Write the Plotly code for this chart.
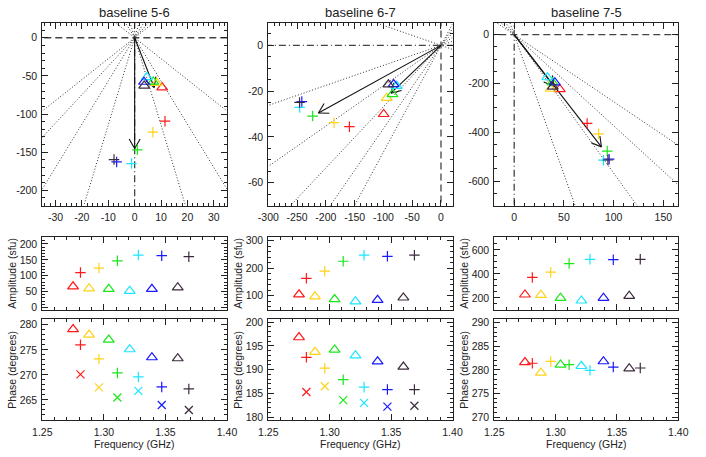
import math
import plotly.graph_objects as go

W, H = 706, 457

# ---------------- data ----------------
titles = ["baseline 5-6", "baseline 6-7", "baseline 7-5"]
colors = ["#ff1a1a", "#ffd21a", "#1ae61a", "#1ae6ff", "#1a1aff", "#3c2a3c"]
freq_tri = [1.275, 1.288, 1.304, 1.321, 1.339, 1.360]
freq_plus = [1.281, 1.296, 1.311, 1.328, 1.347, 1.369]

amp_tri_56 = [66, 60, 58, 52, 58, 63]
amp_plus_56 = [110, 124, 147, 165, 163, 160]
ph_tri_56 = [279.1, 278.0, 277.0, 275.1, 273.5, 273.3]
ph_plus_56 = [276.0, 273.2, 270.4, 269.6, 267.6, 267.2]
ph_x_56 = [270.1, 267.5, 265.5, 266.8, 264.0, 263.0]
arrow_amp_56 = [145.3, 65.6]
arrow_ph_56 = [270.0, 276.5]
rays_56 = [250, 255, 260, 265, 275, 280, 290]

amp_tri_67 = [104, 97, 87, 79, 84, 93]
amp_plus_67 = [163, 189, 225, 247, 243, 247]
ph_tri_67 = [196.8, 193.7, 194.2, 193.0, 191.7, 190.6]
ph_plus_67 = [192.6, 190.3, 187.9, 186.3, 185.8, 185.8]
ph_x_67 = [185.3, 186.5, 183.6, 183.0, 182.2, 182.4]
arrow_amp_67 = [215.0, 89.5]
arrow_ph_67 = [187.9, 193.5]
rays_67 = [175, 185, 190, 195, 200, 205]

amp_tri_75 = [228, 225, 200, 178, 200, 217]
amp_plus_75 = [371, 415, 486, 522, 519, 522]
ph_tri_75 = [281.6, 279.4, 281.1, 280.8, 281.8, 280.3]
ph_plus_75 = [281.4, 281.8, 281.1, 279.9, 280.6, 280.4]
ph_x_75 = []
arrow_amp_75 = [468.0, 215.0]
arrow_ph_75 = [280.8, 280.7]
rays_75 = [275, 280, 285, 290]

top_xticks = [[-30, -20, -10, 0, 10, 20, 30], [-300, -250, -200, -150, -100, -50, 0], [0, 50, 100, 150]]
top_yticks = [[-200, -150, -100, -50, 0], [-60, -40, -20, 0], [-600, -400, -200, 0]]
amp_ticks = [[0, 50, 100, 150, 200], [100, 200, 300], [200, 400, 600]]
ph_ticks = [[265, 270, 275, 280], [180, 185, 190, 195, 200], [270, 275, 280, 285, 290]]
freq_ticks = [1.25, 1.30, 1.35, 1.40]
freq_labels = ["1.25", "1.30", "1.35", "1.40"]

# ---------------- layout geometry / style ----------------
cols_px = [(42.3, 227.0), (268.3, 452.5), (494.3, 678.3)]
row_top = (22.5, 205.5)
row_amp = (237.3, 310.0)
row_ph = (319.3, 420.0)
top_xrange = [[-35, 35], [-300, 20], [-20, 165]]
top_yrange = [[-220, 20], [-70, 10], [-700, 50]]
top_xminor = [2, 10, 10]
top_yminor = [10, 5, 50]
amp_range = [[-8, 221], [48, 312], [100, 705]]
amp_minor = [10, 20, 50]
ph_range = [[261.0, 281.1], [179.4, 200.6], [269.4, 290.7]]
freq_range = [1.25, 1.40]
FONT = "Liberation Sans, Arial, Helvetica, sans-serif"
INK = "#222222"
TICK_SIZE = 10.5
LABEL_SIZE = 10.5

panels = [
    (amp_tri_56, amp_plus_56, ph_tri_56, ph_plus_56, ph_x_56, arrow_amp_56, arrow_ph_56, rays_56),
    (amp_tri_67, amp_plus_67, ph_tri_67, ph_plus_67, ph_x_67, arrow_amp_67, arrow_ph_67, rays_67),
    (amp_tri_75, amp_plus_75, ph_tri_75, ph_plus_75, ph_x_75, arrow_amp_75, arrow_ph_75, rays_75),
]


def xdom(a, b):
    return [a / W, b / W]


def ydom(a, b):
    return [1 - b / H, 1 - a / H]


def fmt(v):
    return "%g" % v


def axis(rng, dom, anchor, tickvals, ticktext, minor, labels=True):
    return dict(
        domain=dom, anchor=anchor, range=rng, showgrid=False, zeroline=False,
        automargin=False,
        showline=True, linecolor=INK, linewidth=1, mirror="allticks",
        ticks="inside", ticklen=6, tickwidth=1, tickcolor=INK,
        tickmode="array", tickvals=tickvals, ticktext=ticktext,
        showticklabels=labels, ticklabelstandoff=2,
        tickfont=dict(size=TICK_SIZE, color=INK, family=FONT),
        minor=dict(tickmode="linear", tick0=0, dtick=minor, ticks="inside",
                   ticklen=3, tickwidth=1, tickcolor=INK, showgrid=False),
        fixedrange=True,
    )


def polar(a, p):
    return a * math.cos(math.radians(p)), a * math.sin(math.radians(p))


fig = go.Figure()
layout = {}
annotations = []

mk_tri = dict(symbol="triangle-up-open", size=9.5, line=dict(width=1.2))
mk_plus = dict(symbol="cross-thin-open", size=7.5, line=dict(width=1.2))
mk_x = dict(symbol="x-thin-open", size=8, line=dict(width=1.2))

for c in range(3):
    amp_tri, amp_plus, ph_tri, ph_plus, ph_x, a_amp, a_ph, rays = panels[c]
    it, ia, ip = 1 + 3 * c, 2 + 3 * c, 3 + 3 * c
    xa = lambda i: "x" if i == 1 else "x%d" % i
    ya = lambda i: "y" if i == 1 else "y%d" % i
    xl = lambda i: "xaxis" if i == 1 else "xaxis%d" % i
    yl = lambda i: "yaxis" if i == 1 else "yaxis%d" % i
    x0, x1 = cols_px[c]

    # axes
    layout[xl(it)] = axis(top_xrange[c], xdom(x0, x1), ya(it), top_xticks[c],
                          [fmt(v) for v in top_xticks[c]], top_xminor[c])
    layout[yl(it)] = axis(top_yrange[c], ydom(*row_top), xa(it), top_yticks[c],
                          [fmt(v) for v in top_yticks[c]], top_yminor[c])
    layout[xl(ia)] = axis(freq_range, xdom(x0, x1), ya(ia), freq_ticks, freq_labels, 0.01, labels=False)
    layout[yl(ia)] = axis(amp_range[c], ydom(*row_amp), xa(ia), amp_ticks[c],
                          [fmt(v) for v in amp_ticks[c]], amp_minor[c])
    layout[xl(ip)] = axis(freq_range, xdom(x0, x1), ya(ip), freq_ticks, freq_labels, 0.01)
    layout[yl(ip)] = axis(ph_range[c], ydom(*row_ph), xa(ip), ph_ticks[c],
                          [fmt(v) for v in ph_ticks[c]], 1)

    # pixel scale of the top panel
    sx = (x1 - x0) / (top_xrange[c][1] - top_xrange[c][0])
    sy = (row_top[1] - row_top[0]) / (top_yrange[c][1] - top_yrange[c][0])
    big = 5000

    # radial dotted lines
    for r in rays:
        ex, ey = polar(big, r)
        fig.add_trace(go.Scatter(x=[-ex, ex], y=[-ey, ey], mode="lines", xaxis=xa(it), yaxis=ya(it),
                                 line=dict(color="#333333", width=1, dash="1px,2px"),
                                 hoverinfo="skip", showlegend=False))
    # axes lines through origin
    hz_dash = "7px,4px" if c != 1 else "7px,3px,1px,3px"
    vt_dash = "7px,3px,1px,3px" if c != 1 else "7px,4px"
    fig.add_trace(go.Scatter(x=[-big, big], y=[0, 0], mode="lines", xaxis=xa(it), yaxis=ya(it),
                             line=dict(color="#444444", width=1.3, dash=hz_dash),
                             hoverinfo="skip", showlegend=False))
    fig.add_trace(go.Scatter(x=[0, 0], y=[-big, big], mode="lines", xaxis=xa(it), yaxis=ya(it),
                             line=dict(color="#444444", width=1.3, dash=vt_dash),
                             hoverinfo="skip", showlegend=False))

    # arrows (shaft + open V head computed in pixel space)
    for a, p in zip(a_amp, a_ph):
        tx, ty = polar(a, p)
        px, py = tx * sx, ty * sy
        n = math.hypot(px, py)
        ux, uy = px / n, py / n
        L, ang = 11.0, math.radians(30)
        xs, ys = [0, tx, None], [0, ty, None]
        for s in (1, -1):
            rx2 = -ux * math.cos(ang) + s * uy * math.sin(ang)
            ry2 = -uy * math.cos(ang) - s * ux * math.sin(ang)
            xs += [tx, tx + rx2 * L / sx, None]
            ys += [ty, ty + ry2 * L / sy, None]
        fig.add_trace(go.Scatter(x=xs, y=ys, mode="lines", xaxis=xa(it), yaxis=ya(it),
                                 line=dict(color="#111111", width=1.1),
                                 hoverinfo="skip", showlegend=False))

    # vector points in top panel
    for k in range(6):
        tx, ty = polar(amp_tri[k], ph_tri[k])
        fig.add_trace(go.Scatter(x=[tx], y=[ty], mode="markers", xaxis=xa(it), yaxis=ya(it),
                                 marker=dict(mk_tri, color=colors[k]), showlegend=False))
        tx, ty = polar(amp_plus[k], ph_plus[k])
        fig.add_trace(go.Scatter(x=[tx], y=[ty], mode="markers", xaxis=xa(it), yaxis=ya(it),
                                 marker=dict(mk_plus, color=colors[k]), showlegend=False))

    # amplitude and phase vs frequency
    fig.add_trace(go.Scatter(x=freq_tri, y=amp_tri, mode="markers", xaxis=xa(ia), yaxis=ya(ia),
                             marker=dict(mk_tri, color=colors), showlegend=False))
    fig.add_trace(go.Scatter(x=freq_plus, y=amp_plus, mode="markers", xaxis=xa(ia), yaxis=ya(ia),
                             marker=dict(mk_plus, color=colors), showlegend=False))
    fig.add_trace(go.Scatter(x=freq_tri, y=ph_tri, mode="markers", xaxis=xa(ip), yaxis=ya(ip),
                             marker=dict(mk_tri, color=colors), showlegend=False))
    fig.add_trace(go.Scatter(x=freq_plus, y=ph_plus, mode="markers", xaxis=xa(ip), yaxis=ya(ip),
                             marker=dict(mk_plus, color=colors), showlegend=False))
    if ph_x:
        fig.add_trace(go.Scatter(x=freq_plus[:len(ph_x)], y=ph_x, mode="markers", xaxis=xa(ip), yaxis=ya(ip),
                                 marker=dict(mk_x, color=colors[:len(ph_x)]), showlegend=False))

    # texts
    cx = (x0 + x1) / 2 / W
    annotations.append(dict(text=titles[c], x=cx, y=1 - 12 / H, xref="paper", yref="paper",
                            showarrow=False, xanchor="center", yanchor="middle",
                            font=dict(size=13, color=INK, family=FONT)))
    annotations.append(dict(text="Frequency (GHz)", x=cx, y=1 - 444 / H, xref="paper", yref="paper",
                            showarrow=False, xanchor="center", yanchor="middle",
                            font=dict(size=LABEL_SIZE, color=INK, family=FONT)))
    tx_px = [12, 238, 464][c]
    annotations.append(dict(text="Amplitude (sfu)", x=tx_px / W, y=1 - sum(row_amp) / 2 / H,
                            xref="paper", yref="paper", showarrow=False, textangle=-90,
                            xanchor="center", yanchor="middle", font=dict(size=LABEL_SIZE, color=INK, family=FONT)))
    annotations.append(dict(text="Phase (degrees)", x=tx_px / W, y=1 - sum(row_ph) / 2 / H,
                            xref="paper", yref="paper", showarrow=False, textangle=-90,
                            xanchor="center", yanchor="middle", font=dict(size=LABEL_SIZE, color=INK, family=FONT)))

fig.update_layout(**layout)
fig.update_layout(width=W, height=H, margin=dict(l=0, r=0, t=0, b=0),
                  paper_bgcolor="white", plot_bgcolor="white", showlegend=False,
                  annotations=annotations, font=dict(family=FONT, color=INK))
fig.write_html("out.html", config={"displayModeBar": False},
               post_script="document.body.style.margin='0';document.body.style.padding='0';")
